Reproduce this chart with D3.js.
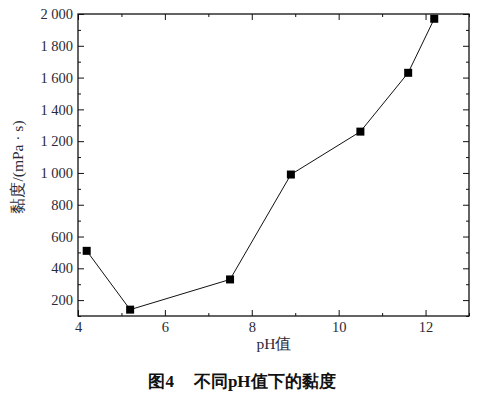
<!DOCTYPE html>
<html><head><meta charset="utf-8">
<script src="https://cdn.jsdelivr.net/npm/d3@7"></script>
<style>body{margin:0;background:#fff}svg{display:block}
svg text{font-family:"Liberation Serif","Times New Roman",Times,"DejaVu Serif",serif;}
</style>
</head><body>
<svg id="c" width="480" height="393"></svg>
<script>
const phValues = [4.2, 5.2, 7.5, 8.9, 10.5, 11.6, 12.2];
const viscosity = [510, 140, 330, 990, 1260, 1630, 1970];
const xTicks = [4, 6, 8, 10, 12];
const yTicks = [200, 400, 600, 800, 1000, 1200, 1400, 1600, 1800, 2000];
const yTickLabels = ["200","400","600","800","1 000","1 200","1 400","1 600","1 800","2 000"];
const xTitle = "pH值";
const yTitle = "黏度/(mPa · s)";
const caption = ["图4", "不同pH值下的黏度"];

const svg = d3.select("#c");
const L = 78, R = 469, T = 14, B = 316;
const x = d3.scaleLinear().domain([4, 13]).range([L, R]);
const y = d3.scaleLinear().domain([100, 2000]).range([B, T]);
const serif = '"Liberation Serif","Times New Roman",Times,"DejaVu Serif",serif';
const txtCol = "#2b2a38";

svg.append("rect").attr("x", L).attr("y", T).attr("width", R - L).attr("height", B - T)
  .attr("fill", "none").attr("stroke", "#111").attr("stroke-width", 1.3);

const xMinor = d3.range(5, 13.01, 2);
const yMinor = d3.range(100, 2000.01, 200);

function ax(gen, tx, ty) {
  return svg.append("g").attr("transform", `translate(${tx},${ty})`).call(gen);
}
ax(d3.axisBottom(x).tickValues(xTicks).tickSize(-6).tickFormat(d3.format("d")).tickPadding(6), 0, B);
ax(d3.axisBottom(x).tickValues(xMinor).tickSize(-3).tickFormat(""), 0, B);
ax(d3.axisTop(x).tickValues(xTicks).tickSize(-6).tickFormat(""), 0, T);
ax(d3.axisTop(x).tickValues(xMinor).tickSize(-3).tickFormat(""), 0, T);
ax(d3.axisLeft(y).tickValues(yTicks).tickSize(-6).tickPadding(5).tickFormat((d, i) => yTickLabels[i]), L, 0);
ax(d3.axisLeft(y).tickValues(yMinor).tickSize(-3).tickFormat(""), L, 0);
ax(d3.axisRight(y).tickValues(yTicks).tickSize(-6).tickFormat(""), R, 0);
ax(d3.axisRight(y).tickValues(yMinor).tickSize(-3).tickFormat(""), R, 0);

svg.selectAll("g").attr("font-family", null).attr("font-size", null);
svg.selectAll(".domain").remove();
svg.selectAll(".tick line").attr("stroke", "#111").attr("stroke-width", 1);
svg.selectAll(".tick text").attr("font-family", serif).attr("font-size", 14.5).attr("fill", txtCol);

const pts = phValues.map((p, i) => [p, viscosity[i]]);
svg.append("path").datum(pts)
  .attr("d", d3.line().x(d => x(d[0])).y(d => y(d[1])))
  .attr("fill", "none").attr("stroke", "#111").attr("stroke-width", 1);
const ms = 8;
svg.selectAll("rect.m").data(pts).enter().append("rect").attr("class", "m")
  .attr("x", d => x(d[0]) - ms / 2).attr("y", d => y(d[1]) - ms / 2)
  .attr("width", ms).attr("height", ms).attr("fill", "#000");

svg.append("text").attr("x", 274).attr("y", 349).attr("text-anchor", "middle")
  .attr("font-family", serif).attr("font-size", 15.5).attr("fill", txtCol).text(xTitle);
svg.append("text").attr("transform", `translate(23,167) rotate(-90)`)
  .attr("text-anchor", "middle").attr("font-family", serif).attr("font-size", 15.5)
  .attr("fill", txtCol).text(yTitle);

const cap = svg.append("text").attr("x", 242).attr("y", 387).attr("text-anchor", "middle")
  .attr("font-family", serif).attr("font-size", 17)
  .attr("font-weight", "bold").attr("fill", "#111");
cap.append("tspan").text(caption[0]);
cap.append("tspan").attr("dx", 20).text(caption[1]);
</script>
</body></html>
